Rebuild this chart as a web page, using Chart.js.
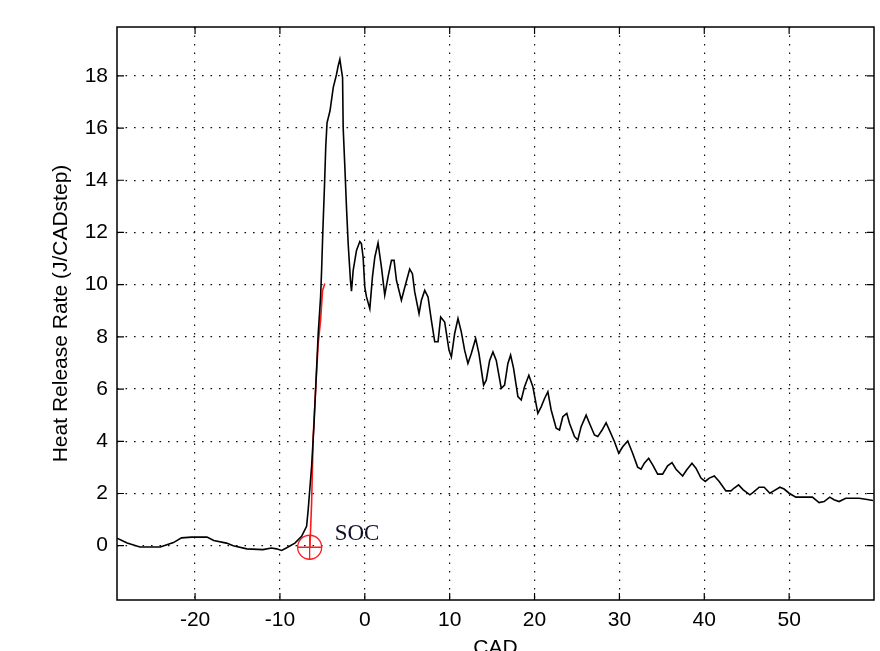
<!DOCTYPE html>
<html>
<head>
<meta charset="utf-8">
<script src="https://cdn.jsdelivr.net/npm/chart.js@4/dist/chart.umd.min.js"></script>
<style>
  html, body { margin: 0; padding: 0; background: #fff; }
  #wrap { width: 880px; height: 651px; }
</style>
</head>
<body>
<div id="wrap"><canvas id="hrrChart" width="880" height="651"></canvas></div>
<script>
// heat release rate trace (CAD, J/CADstep)
const cad = [
  -29.2, -28.0, -26.5, -24.1, -22.55, -21.6, -20.4, -18.6, -17.8, -16.3,
  -15.5, -13.9, -12.0, -11.0, -10.4, -9.8, -9.2, -8.24, -7.45, -6.86,
  -6.67, -6.27, -6.0, -5.76, -5.49, -5.21, -5.09, -4.95, -4.75, -4.6,
  -4.45, -4.1, -3.72, -3.33, -3.14, -2.94, -2.74, -2.62, -2.55, -2.35,
  -2.15, -1.96, -1.69, -1.57, -1.37, -0.98, -0.59, -0.4, -0.2, 0,
  0.2, 0.59, 0.9, 1.18, 1.56, 1.96, 2.35, 2.74, 3.14, 3.45,
  3.73, 4.31, 4.71, 5.29, 5.61, 5.88, 6.39, 6.67, 7.06, 7.45,
  7.84, 8.24, 8.63, 8.94, 9.41, 9.92, 10.2, 10.59, 10.98, 11.37,
  11.76, 12.15, 12.55, 13.06, 13.45, 14.0, 14.31, 14.71, 15.1, 15.49,
  16.08, 16.47, 16.86, 17.18, 17.53, 18.04, 18.43, 18.82, 19.33, 19.8,
  20.39, 20.78, 21.18, 21.57, 21.96, 22.55, 22.94, 23.33, 23.8, 24.12,
  24.71, 25.1, 25.49, 26.08, 26.47, 27.06, 27.45, 27.96, 28.43, 28.82,
  29.41, 29.92, 30.39, 30.98, 31.56, 32.15, 32.55, 32.94, 33.45, 33.92,
  34.51, 35.09, 35.68, 36.2, 36.67, 37.45, 37.92, 38.55, 39.02, 39.61,
  40.12, 40.59, 41.18, 41.76, 42.55, 43.14, 43.53, 44.04, 44.59, 45.38,
  45.76, 46.47, 47.06, 47.73, 48.24, 48.91, 49.41, 50.0, 50.79, 52.74,
  53.53, 54.12, 54.79, 55.29, 55.88, 56.67, 58.24, 59.02, 59.88
];
const hrr = [
  0.29, 0.10, -0.05, -0.05, 0.12, 0.30, 0.33, 0.33, 0.20, 0.10,
  0.0, -0.12, -0.15, -0.09, -0.12, -0.18, -0.08, 0.10, 0.36, 0.74,
  1.38, 3.03, 4.56, 6.22, 8.13, 9.53, 10.55, 12.0, 13.8, 15.3,
  16.2, 16.66, 17.55, 18.06, 18.38, 18.63, 18.19, 17.93, 16.02, 14.5,
  12.9, 11.57, 10.16, 9.75, 10.55, 11.31, 11.65, 11.57, 11.05, 9.9,
  9.53, 9.08, 10.3, 11.05, 11.6, 10.67, 9.6, 10.3, 10.93, 10.93,
  10.16, 9.4, 9.9, 10.6, 10.42, 9.72, 8.89, 9.4, 9.78, 9.53,
  8.64, 7.81, 7.81, 8.76, 8.57, 7.49, 7.23, 8.13, 8.7, 8.19,
  7.49, 6.98, 7.36, 7.94, 7.36, 6.15, 6.34, 7.1, 7.42, 7.1,
  6.03, 6.15, 6.98, 7.3, 6.79, 5.71, 5.58, 6.09, 6.53, 6.09,
  5.07, 5.32, 5.64, 5.90, 5.20, 4.50, 4.43, 4.94, 5.07, 4.69,
  4.18, 4.05, 4.56, 5.0, 4.69, 4.24, 4.18, 4.43, 4.71, 4.43,
  3.99, 3.54, 3.79, 4.01, 3.54, 3.01, 2.93, 3.16, 3.35, 3.10,
  2.74, 2.74, 3.06, 3.18, 2.93, 2.67, 2.90, 3.16, 2.97, 2.59,
  2.46, 2.59, 2.67, 2.46, 2.10, 2.10, 2.21, 2.33, 2.14, 1.95,
  2.04, 2.24, 2.24, 2.01, 2.11, 2.24, 2.17, 2.01, 1.86, 1.86,
  1.65, 1.69, 1.86, 1.76, 1.69, 1.82, 1.82, 1.78, 1.73
];

// red start-of-combustion fit line
const fitCad = [-6.47, -6.27, -6.08, -5.76, -5.49, -5.21, -4.98, -4.71];
const fitHrr = [-0.05, 1.63, 4.18, 6.22, 7.75, 8.64, 9.78, 10.04];

// SOC marker
const socCad = -6.5;
const socHrr = -0.06;
const socLabel = 'SOC';

const xTicks = [-20, -10, 0, 10, 20, 30, 40, 50];
const yTicks = [0, 2, 4, 6, 8, 10, 12, 14, 16, 18];

const toPts = (xs, ys) => xs.map((x, i) => ({ x, y: ys[i] }));

// MATLAB-style box with inward ticks, plus SOC text
const boxPlugin = {
  id: 'matlabBox',
  afterDatasetsDraw(chart) {
    const { ctx, chartArea: a, scales } = chart;
    const tl = 7;
    ctx.save();
    ctx.strokeStyle = '#000';
    ctx.lineWidth = 1.5;
    ctx.strokeRect(a.left, a.top, a.right - a.left, a.bottom - a.top);
    ctx.lineWidth = 1.2;
    ctx.beginPath();
    xTicks.forEach(v => {
      const px = scales.x.getPixelForValue(v);
      ctx.moveTo(px, a.bottom); ctx.lineTo(px, a.bottom - tl);
      ctx.moveTo(px, a.top); ctx.lineTo(px, a.top + tl);
    });
    yTicks.forEach(v => {
      const py = scales.y.getPixelForValue(v);
      ctx.moveTo(a.left, py); ctx.lineTo(a.left + tl, py);
      ctx.moveTo(a.right, py); ctx.lineTo(a.right - tl, py);
    });
    ctx.stroke();

    const sx = scales.x.getPixelForValue(socCad);
    const sy = scales.y.getPixelForValue(socHrr);
    ctx.fillStyle = '#10102a';
    ctx.font = '23px "Liberation Serif", "DejaVu Serif", serif';
    ctx.textAlign = 'left';
    ctx.textBaseline = 'alphabetic';
    ctx.fillText(socLabel, sx + 25, sy - 7);
    ctx.restore();
  }
};

const tickFont = { family: '"Liberation Sans", Arial, sans-serif', size: 21 };

new Chart(document.getElementById('hrrChart').getContext('2d'), {
  type: 'scatter',
  data: {
    datasets: [
      {
        label: 'HRR',
        data: toPts(cad, hrr),
        showLine: true,
        borderColor: '#000',
        borderWidth: 1.6,
        pointRadius: 0,
        tension: 0
      },
      {
        label: 'fit',
        data: toPts(fitCad, fitHrr),
        showLine: true,
        borderColor: '#ff1a1a',
        borderWidth: 1.6,
        pointRadius: 0,
        tension: 0
      },
      {
        label: 'SOC circle',
        data: [{ x: socCad, y: socHrr }],
        pointStyle: 'circle',
        pointRadius: 12,
        borderColor: '#ff1a1a',
        backgroundColor: 'rgba(0,0,0,0)',
        borderWidth: 1.3
      },
      {
        label: 'SOC cross',
        data: [{ x: socCad, y: socHrr }],
        pointStyle: 'cross',
        pointRadius: 12,
        borderColor: '#ff1a1a',
        borderWidth: 1.3
      }
    ]
  },
  options: {
    responsive: false,
    animation: false,
    events: [],
    layout: { autoPadding: false, padding: { left: 0, top: 27, right: 6, bottom: 0 } },
    plugins: { legend: { display: false }, tooltip: { enabled: false } },
    scales: {
      x: {
        type: 'linear',
        min: -29.2,
        max: 60,
        afterBuildTicks: s => { s.ticks = xTicks.map(v => ({ value: v })); },
        afterFit: s => { s.height = 51; s.paddingLeft = 0; s.paddingRight = 0; },
        grid: { color: '#111', lineWidth: 1.2, drawTicks: false },
        border: { display: false, dash: [1.6, 6.9] },
        ticks: { color: '#000', font: tickFont, padding: 8, maxRotation: 0 },
        title: {
          display: true,
          text: 'CAD',
          color: '#000',
          font: tickFont,
          padding: { top: 0, bottom: -10 }
        }
      },
      y: {
        type: 'linear',
        min: -2.08,
        max: 19.87,
        afterBuildTicks: s => { s.ticks = yTicks.map(v => ({ value: v })); },
        afterFit: s => { s.width = 117; },
        grid: { color: '#111', lineWidth: 1.2, drawTicks: false },
        border: { display: false, dash: [1.6, 6.9] },
        ticks: { color: '#000', font: tickFont, padding: 9 },
        title: {
          display: true,
          text: 'Heat Release Rate (J/CADstep)',
          color: '#000',
          font: tickFont,
          padding: { top: 49, bottom: 0 }
        }
      }
    }
  },
  plugins: [boxPlugin]
});
</script>
</body>
</html>
